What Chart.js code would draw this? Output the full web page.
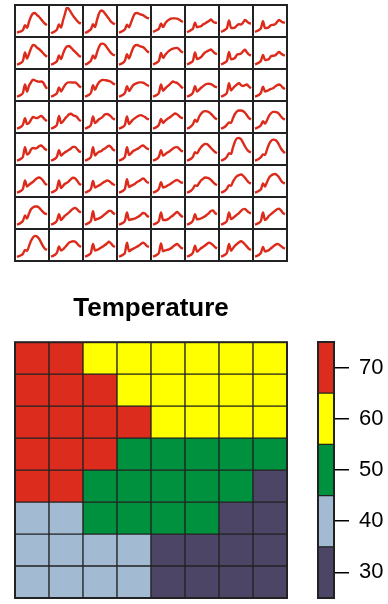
<!DOCTYPE html>
<html>
<head>
<meta charset="utf-8">
<script src="https://cdn.jsdelivr.net/npm/chart.js@4.4.1/dist/chart.umd.min.js"></script>
<style>
  body { margin: 0; background: #fff; width: 388px; height: 604px; overflow: hidden; position: relative; }
  #sparks { position: absolute; left: 14px; top: 4px; width: 274px; height: 258px; box-sizing: border-box; padding: 2px; background: #222; display: grid; grid-template-columns: repeat(8, 1fr); grid-template-rows: repeat(8, 1fr); gap: 2px; }
  #sparks div { background: #fff; position: relative; min-width: 0; min-height: 0; }
  #heatWrap { position: absolute; left: 14px; top: 293px; width: 274px; height: 306px; }
  #barWrap { position: absolute; left: 317px; top: 341px; width: 71px; height: 258px; }
</style>
</head>
<body>
<div id="sparks"></div>
<div id="heatWrap"><canvas id="heat"></canvas></div>
<div id="barWrap"><canvas id="colorbar"></canvas></div>
<script>
// small multiples: 8 x 8 series, same y range
var sparkSteps = ["1","2","3","4","5","6","7","8","9","10","11","12","13","14","15","16"];
var sparkRows = [
  [
    [0.5,0.8,1.0,1.5,3.3,2.3,4.5,6.5,7.6,7.8,7.0,6.4,5.5,4.6,3.8,3.3],
    [0.3,0.6,1.0,1.7,3.5,2.4,5.0,7.5,9.8,9.2,8.0,6.8,5.8,4.9,4.2,3.9],
    [0.4,0.7,1.2,1.8,3.6,2.6,5.2,7.6,8.7,8.4,7.6,6.6,5.6,4.6,4.0,3.6],
    [0.5,0.8,1.2,1.8,3.4,2.5,4.2,6.2,7.6,7.8,7.5,7.2,7.0,6.5,6.0,5.8],
    [0.8,1.1,1.5,2.0,3.9,2.6,3.8,4.8,5.3,5.7,5.8,5.8,5.7,5.4,4.8,4.5],
    [0.7,1.0,1.5,2.0,4.2,2.5,2.7,2.9,3.5,3.9,4.4,4.8,5.4,4.6,4.2,4.1],
    [0.8,1.1,1.6,2.2,5.0,2.3,2.2,2.4,3.2,3.6,3.5,4.2,5.2,4.6,4.0,3.9],
    [0.8,1.1,1.5,2.2,4.7,2.2,2.2,2.6,3.3,3.4,3.6,4.4,5.2,4.7,4.3,4.2]
  ],
  [
    [0.5,0.8,1.2,2.0,5.0,2.8,4.5,6.5,7.8,7.6,6.8,6.3,5.6,4.8,4.0,3.4],
    [0.5,0.8,1.2,1.8,3.9,2.6,4.5,6.3,7.3,7.4,6.8,6.0,5.3,4.6,3.8,3.4],
    [0.5,0.8,1.3,2.0,3.9,2.8,5.0,7.0,8.2,8.3,7.8,6.8,5.8,4.8,4.2,3.9],
    [0.5,0.8,1.2,2.0,4.4,2.8,4.6,6.6,7.6,7.8,7.5,7.2,7.0,6.4,5.5,5.0],
    [0.6,0.9,1.3,2.0,4.8,3.0,4.0,4.9,5.6,6.1,6.4,6.6,6.7,6.2,5.4,5.0],
    [0.6,0.9,1.3,2.0,5.0,2.6,2.8,3.3,4.2,5.0,5.4,5.8,6.1,5.4,4.7,4.4],
    [0.6,0.9,1.3,2.0,5.2,2.5,2.6,3.0,4.2,4.4,4.6,5.4,6.0,5.0,4.2,3.9],
    [0.6,0.9,1.3,2.0,4.1,2.2,2.3,2.6,3.6,3.8,3.9,4.6,5.2,4.6,4.1,3.9]
  ],
  [
    [0.5,0.8,1.2,2.0,5.0,2.4,4.5,5.8,6.8,6.5,6.2,6.0,6.1,5.8,4.5,3.4],
    [0.5,0.8,1.2,1.8,3.9,2.4,3.6,4.8,5.6,5.8,5.8,5.7,5.8,5.3,4.5,3.9],
    [0.5,0.8,1.2,2.0,4.7,3.0,4.6,5.8,6.5,6.7,6.6,6.5,6.3,6.0,5.4,5.0],
    [0.5,0.8,1.2,1.9,4.4,2.6,3.6,4.7,5.2,5.5,5.8,5.8,5.7,5.3,4.8,4.4],
    [0.5,0.8,1.2,2.0,5.0,2.7,3.5,4.2,4.8,5.5,6.1,5.8,5.6,5.0,4.2,3.6],
    [0.5,0.8,1.2,2.0,4.4,2.4,3.0,3.8,4.3,4.9,5.2,5.3,5.1,4.7,4.2,3.9],
    [0.5,0.8,1.2,2.0,5.5,2.8,3.6,4.4,5.0,5.5,4.8,4.4,4.8,5.0,4.2,3.6],
    [0.5,0.8,1.2,2.0,4.2,2.4,2.6,3.0,3.4,3.6,4.2,4.7,5.0,4.6,3.8,3.3]
  ],
  [
    [0.5,0.8,1.2,2.0,4.4,2.2,2.6,3.8,4.8,4.6,4.4,4.8,5.2,4.7,3.8,3.3],
    [0.5,0.8,1.2,2.0,5.2,2.6,3.2,4.2,5.0,5.8,6.0,5.5,5.2,4.8,3.8,3.3],
    [0.5,0.8,1.2,2.0,5.0,2.6,3.2,4.0,4.4,5.0,5.8,5.9,5.6,5.0,4.2,3.9],
    [0.5,0.8,1.2,2.0,5.0,2.2,3.0,3.8,4.4,4.9,5.3,5.5,5.2,4.8,4.2,3.9],
    [0.5,0.8,1.2,2.0,4.1,2.6,3.4,4.0,4.5,5.0,5.6,6.1,5.8,5.2,4.6,4.4],
    [0.5,0.8,1.3,2.2,3.8,3.0,4.8,6.0,6.8,7.0,6.9,6.6,6.0,5.2,4.4,3.9],
    [0.5,0.8,1.2,2.0,2.8,2.6,4.4,6.0,6.9,7.2,7.2,7.0,6.4,5.4,4.4,3.9],
    [0.5,0.8,1.2,1.8,3.3,2.4,3.6,5.2,6.2,6.7,6.7,6.5,6.0,5.0,4.2,3.9]
  ],
  [
    [0.5,0.8,1.2,2.0,5.5,2.8,3.2,4.6,5.2,5.0,5.2,5.8,6.1,5.6,4.8,4.4],
    [0.5,0.8,1.2,2.0,4.4,2.4,3.0,3.6,4.0,4.5,5.0,5.6,5.6,4.8,4.0,3.6],
    [0.5,0.8,1.2,2.0,5.5,2.4,3.2,3.8,4.0,4.6,5.0,5.6,6.0,5.5,4.6,4.2],
    [0.5,0.8,1.2,2.0,5.5,2.6,3.2,4.0,4.4,4.8,5.2,5.8,6.1,5.6,5.0,4.7],
    [0.5,0.8,1.2,2.0,4.4,2.4,2.8,3.4,3.8,4.4,5.0,5.4,5.5,5.0,4.2,3.9],
    [0.5,0.8,1.2,2.0,3.6,3.2,4.4,5.5,6.2,6.7,6.6,6.0,5.2,4.4,3.7,3.3],
    [0.5,0.8,1.2,2.0,3.3,3.0,5.4,7.6,8.8,8.9,8.4,7.2,5.8,4.6,3.9,3.6],
    [0.5,0.8,1.2,1.8,2.8,2.6,4.6,6.6,7.8,8.3,8.2,7.6,6.4,5.0,4.0,3.3]
  ],
  [
    [0.5,0.8,1.2,2.0,5.0,2.8,3.4,4.0,4.5,5.2,5.8,6.1,5.8,5.0,3.9,3.3],
    [0.5,0.8,1.2,2.0,5.0,2.2,3.0,3.8,4.2,4.8,5.5,6.0,5.8,5.0,3.9,3.3],
    [0.5,0.8,1.2,2.0,4.8,2.4,2.8,3.2,3.6,4.2,4.6,5.0,4.8,4.2,3.6,3.3],
    [0.5,0.8,1.2,2.0,5.5,2.6,3.0,3.4,3.8,4.4,4.8,5.3,5.8,5.2,4.4,4.1],
    [0.5,0.8,1.2,2.0,4.4,2.4,2.6,3.0,3.4,3.9,4.4,4.9,5.2,4.8,4.3,4.1],
    [0.5,0.8,1.2,2.0,3.2,3.0,4.0,5.0,5.6,6.1,6.0,5.8,5.2,4.4,3.7,3.3],
    [0.5,0.8,1.2,2.0,3.3,3.0,4.6,5.8,6.6,7.0,7.2,6.8,6.0,5.0,4.2,3.9],
    [0.5,0.8,1.2,1.8,3.9,2.8,4.4,6.0,6.8,7.3,7.4,7.0,6.2,5.0,4.2,3.9]
  ],
  [
    [0.5,0.8,1.2,2.0,3.9,2.8,4.6,6.2,6.9,7.2,7.2,6.8,6.0,5.2,4.6,4.4],
    [0.5,0.8,1.2,2.0,4.4,2.2,3.0,3.8,4.4,5.0,5.8,6.4,6.7,6.2,5.4,5.0],
    [0.5,0.8,1.2,2.0,5.5,2.2,2.6,2.8,3.2,3.8,4.4,5.0,5.6,5.6,4.8,4.4],
    [0.5,0.8,1.2,2.0,5.0,2.2,2.4,2.6,2.8,3.2,3.6,4.2,4.8,4.6,3.8,3.3],
    [0.5,0.8,1.2,2.0,5.0,2.2,2.2,2.4,2.8,3.4,3.9,4.6,5.2,4.6,3.8,3.3],
    [0.5,0.8,1.2,2.0,4.4,2.4,2.6,2.8,3.2,3.6,4.2,4.8,5.6,5.8,4.8,4.4],
    [0.5,0.8,1.2,2.0,5.0,2.6,3.0,3.6,4.2,4.8,5.6,6.2,6.3,5.6,5.0,4.7],
    [0.5,0.8,1.2,2.0,5.0,2.2,2.8,3.8,4.4,5.0,5.6,6.2,6.4,5.8,4.8,4.4]
  ],
  [
    [0.4,0.7,1.0,1.6,3.0,2.6,4.4,6.4,7.6,8.2,8.0,7.2,5.8,4.4,3.4,3.0],
    [0.5,0.8,1.2,2.0,4.3,2.8,3.2,4.0,4.8,5.7,6.0,6.2,6.1,5.4,4.6,4.1],
    [0.5,0.8,1.2,2.0,5.2,2.8,3.0,3.4,3.8,4.3,4.8,5.4,6.0,5.4,4.5,4.1],
    [0.5,0.8,1.2,2.0,5.7,2.5,3.0,3.4,3.8,4.2,4.6,5.2,5.7,5.2,4.4,4.1],
    [0.5,0.8,1.2,2.0,5.4,2.5,2.8,3.0,3.2,3.6,4.2,4.8,5.2,4.6,3.8,3.5],
    [0.5,0.8,1.2,2.0,4.6,2.4,2.9,3.6,4.1,4.6,5.2,5.7,5.4,4.8,4.0,3.5],
    [0.5,0.8,1.2,2.0,5.2,2.7,3.6,4.6,5.2,5.8,6.2,5.8,5.0,4.2,3.4,3.0],
    [0.5,0.8,1.2,2.0,4.1,2.4,2.6,3.0,3.6,4.2,4.8,5.2,5.0,4.4,3.8,3.5]
  ]
];

// heatmap, top row first
var heatCols = ["1","2","3","4","5","6","7","8"];
var heatRows = [
  [70,70,60,60,60,60,60,60],
  [70,70,70,60,60,60,60,60],
  [70,70,70,70,60,60,60,60],
  [70,70,70,50,50,50,50,50],
  [70,70,50,50,50,50,50,30],
  [40,40,50,50,50,50,30,30],
  [40,40,40,40,30,30,30,30],
  [40,40,40,40,30,30,30,30]
];

// colour key
var keyValues = [30, 40, 50, 60, 70];
var keyColors = ["#4c4566", "#a3bad3", "#00913e", "#ffff00", "#dc2c1e"];

var lineRed = "#dc2a1b";
var gridDark = "#222222";
var fontFamily = "'Liberation Sans', Arial, Helvetica, sans-serif";

function colorFor(t) {
  var best = 0;
  keyValues.forEach(function (v, i) {
    if (Math.abs(v - t) < Math.abs(keyValues[best] - t)) best = i;
  });
  return keyColors[best];
}

var sparkBox = document.getElementById("sparks");
sparkRows.forEach(function (row) {
  row.forEach(function (series) {
    var cell = document.createElement("div");
    var cv = document.createElement("canvas");
    cell.appendChild(cv);
    sparkBox.appendChild(cell);
    new Chart(cv, {
      type: "line",
      data: {
        labels: sparkSteps,
        datasets: [{
          data: series,
          borderColor: lineRed,
          borderWidth: 2.4,
          pointRadius: 0,
          fill: false,
          tension: 0.4,
          cubicInterpolationMode: "monotone"
        }]
      },
      options: {
        responsive: true,
        maintainAspectRatio: false,
        animation: false,
        events: [],
        layout: { padding: { left: 1, right: 1, top: 1, bottom: 2 } },
        plugins: { legend: { display: false }, tooltip: { enabled: false } },
        scales: {
          x: { display: false },
          y: { display: false, min: 0, max: 10 }
        }
      }
    });
  });
});

var frame = {
  id: "frame",
  afterDatasetsDraw: function (chart) {
    var ctx = chart.ctx, a = chart.chartArea;
    ctx.save();
    ctx.strokeStyle = gridDark;
    ctx.lineWidth = 2;
    ctx.strokeRect(a.left, a.top, a.right - a.left, a.bottom - a.top);
    ctx.restore();
  }
};

new Chart(document.getElementById("heat"), {
  type: "bar",
  data: {
    labels: heatCols,
    datasets: heatRows.slice().reverse().map(function (row) {
      return {
        data: row.map(function () { return 1; }),
        backgroundColor: row.map(colorFor),
        borderColor: gridDark,
        borderWidth: 1,
        borderSkipped: false,
        barPercentage: 1,
        categoryPercentage: 1
      };
    })
  },
  options: {
    responsive: true,
    maintainAspectRatio: false,
    animation: false,
    events: [],
    layout: { padding: { left: 1, right: 1, top: 0, bottom: 1 } },
    plugins: {
      legend: { display: false },
      tooltip: { enabled: false },
      title: {
        display: true,
        text: "Temperature",
        color: "#000",
        font: { family: fontFamily, size: 26, weight: "bold", lineHeight: 1.2 },
        padding: { top: 0, bottom: 18 }
      }
    },
    scales: {
      x: { display: false, stacked: true },
      y: { display: false, stacked: true, min: 0, max: 8 }
    }
  },
  plugins: [frame]
});

new Chart(document.getElementById("colorbar"), {
  type: "bar",
  data: {
    labels: ["key"],
    datasets: keyValues.map(function (v, i) {
      return {
        data: [[v - 5, v + 5]],
        backgroundColor: keyColors[i],
        borderColor: gridDark,
        borderWidth: 1,
        borderSkipped: false,
        grouped: false,
        barPercentage: 1,
        categoryPercentage: 1
      };
    })
  },
  options: {
    responsive: true,
    maintainAspectRatio: false,
    animation: false,
    events: [],
    layout: { padding: { left: 1, right: 0, top: 1, bottom: 1 } },
    plugins: { legend: { display: false }, tooltip: { enabled: false } },
    scales: {
      x: { display: false },
      y: {
        position: "right",
        min: 25,
        max: 75,
        afterBuildTicks: function (axis) {
          axis.ticks = keyValues.map(function (v) { return { value: v }; });
        },
        afterFit: function (axis) {
          axis.width = 54;
          axis.paddingTop = 0;
          axis.paddingBottom = 0;
        },
        grid: { drawOnChartArea: false, drawTicks: true, tickLength: 15, tickColor: "#000", lineWidth: 1.5 },
        border: { display: true, color: "#000", width: 1.5 },
        ticks: { color: "#000", padding: 10, font: { family: fontFamily, size: 22 } }
      }
    }
  },
  plugins: [frame]
});
</script>
</body>
</html>
